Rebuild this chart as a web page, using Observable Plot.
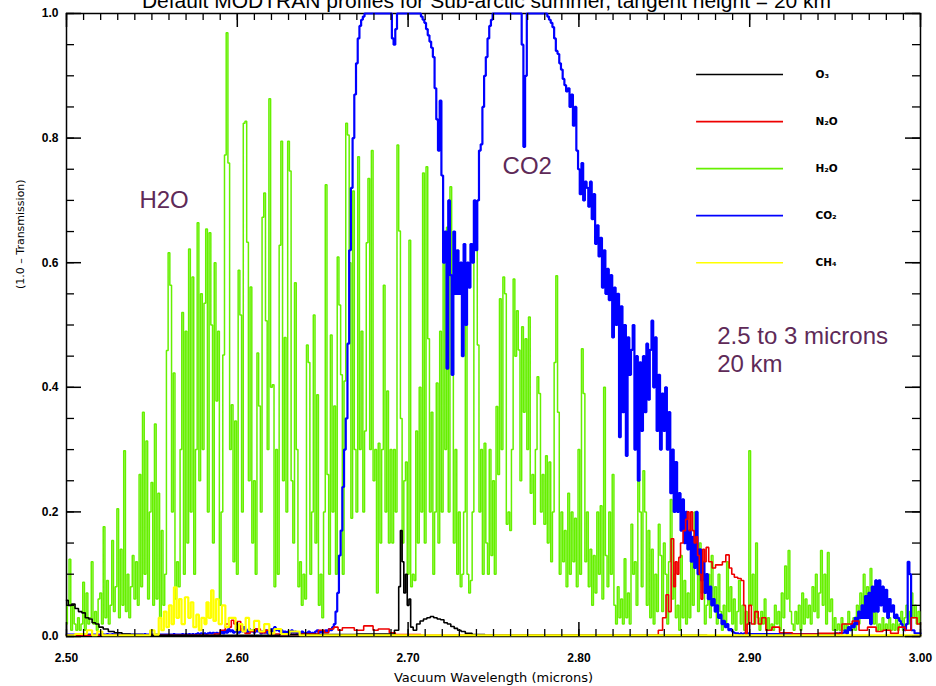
<!DOCTYPE html>
<html><head><meta charset="utf-8">
<script src="https://cdn.jsdelivr.net/npm/d3@7"></script>
<script src="https://cdn.jsdelivr.net/npm/@observablehq/plot@0.6"></script>
<style>
body{margin:0;background:#fff;}
#chart{position:relative;width:936px;height:686px;overflow:hidden;background:#fff;}
</style></head><body><div id="chart"></div>
<script>
// ---------- text ----------
const titleText = "Default MODTRAN profiles for Sub-arctic summer, tangent height = 20 km";
const xLabel = "Vacuum Wavelength (microns)";
const yLabel = "(1.0 \u2013 Transmission)";
const xTickValues = [2.5, 2.6, 2.7, 2.8, 2.9, 3.0];
const xTickLabels = ["2.50", "2.60", "2.70", "2.80", "2.90", "3.00"];
const yTickValues = [0, 0.2, 0.4, 0.6, 0.8, 1.0];
const yTickLabels = ["0.0", "0.2", "0.4", "0.6", "0.8", "1.0"];
const gasNames = ["O\u2083", "N\u2082O", "H\u2082O", "CO\u2082", "CH\u2084"];
const gasColors = ["#000000", "#ee0000", "#66f000", "#0000ff", "#ffff00"];
const notes = ["H2O", "CO2", "2.5 to 3 microns", "20 km"];

// ---------- data (1 - transmission) ----------
// H2O and CO2 sampled on a 0.001 micron grid starting at 2.500
const gridStart = 2.5, gridStep = 0.001;
const h2o = [
0.02,0.05,0.124,0.01,0.05,0.02,0.01,0.03,0.01,0.02,
0.087,0.01,0.07,0.02,0.03,0.12,0.02,0.04,0.01,0.06,
0.07,0.02,0.176,0.03,0.09,0.02,0.05,0.154,0.04,0.08,
0.205,0.03,0.14,0.05,0.298,0.04,0.1,0.03,0.08,0.13,
0.06,0.12,0.05,0.26,0.08,0.36,0.1,0.314,0.06,0.2,
0.247,0.05,0.341,0.06,0.23,0.03,0.17,0.05,0.1,0.459,
0.616,0.564,0.2,0.423,0.06,0.12,0.08,0.3,0.52,0.1,
0.49,0.15,0.622,0.2,0.577,0.1,0.3,0.664,0.25,0.55,
0.3,0.535,0.654,0.2,0.648,0.5,0.15,0.6,0.378,0.49,
0.05,0.2,0.452,0.773,0.969,0.76,0.3,0.372,0.12,0.346,
0.1,0.588,0.516,0.2,0.824,0.827,0.633,0.25,0.561,0.15,
0.25,0.1,0.455,0.37,0.2,0.673,0.712,0.507,0.3,0.863,
0.4,0.404,0.08,0.3,0.1,0.628,0.795,0.25,0.48,0.2,
0.795,0.747,0.25,0.15,0.568,0.3,0.08,0.12,0.05,0.1,
0.06,0.468,0.44,0.1,0.2,0.516,0.15,0.388,0.05,0.1,
0.03,0.2,0.725,0.26,0.1,0.484,0.2,0.37,0.1,0.609,
0.532,0.42,0.1,0.41,0.824,0.805,0.6,0.19,0.715,0.3,
0.2,0.77,0.3,0.49,0.2,0.33,0.632,0.735,0.3,0.78,
0.25,0.3,0.07,0.31,0.15,0.3,0.564,0.2,0.394,0.15,
0.3,0.15,0.3,0.2,0.789,0.651,0.35,0.15,0.25,0.28,
0.1,0.636,0.08,0.1,0.09,0.33,0.15,0.4,0.2,0.744,
0.15,0.754,0.478,0.2,0.36,0.1,0.2,0.407,0.15,0.49,
0.2,0.62,0.3,0.657,0.2,0.722,0.46,0.15,0.3,0.1,
0.2,0.08,0.1,0.2,0.51,0.1,0.07,0.09,0.2,0.693,
0.645,0.468,0.2,0.3,0.1,0.31,0.15,0.1,0.3,0.13,
0.25,0.1,0.369,0.26,0.542,0.3,0.577,0.55,0.18,0.2,
0.17,0.3,0.574,0.45,0.523,0.46,0.25,0.497,0.36,0.478,
0.3,0.513,0.23,0.26,0.18,0.3,0.417,0.39,0.2,0.26,
0.18,0.29,0.15,0.28,0.12,0.2,0.44,0.579,0.36,0.1,
0.2,0.12,0.17,0.08,0.23,0.1,0.2,0.12,0.19,0.08,
0.3,0.1,0.462,0.39,0.12,0.2,0.08,0.14,0.05,0.13,
0.07,0.2,0.1,0.21,0.06,0.4,0.13,0.08,0.2,0.1,
0.26,0.05,0.02,0.08,0.03,0.06,0.02,0.125,0.03,0.07,
0.02,0.18,0.1,0.12,0.05,0.253,0.2,0.08,0.266,0.2,
0.05,0.17,0.03,0.14,0.02,0.1,0.04,0.18,0.13,0.04,
0.15,0.1,0.02,0.12,0.22,0.06,0.1,0.03,0.05,0.01,
0.13,0.03,0.09,0.02,0.07,0.03,0.12,0.05,0.2,0.14,
0.04,0.15,0.07,0.1,0.02,0.05,0.1,0.03,0.13,0.05,
0.08,0.02,0.1,0.04,0.01,0.05,0.02,0.12,0.04,0.08,
0.02,0.06,0.01,0.04,0.09,0.02,0.05,0.01,0.04,0.02,
0.298,0.05,0.1,0.02,0.15,0.03,0.01,0.04,0.02,0.06,
0.01,0.03,0.01,0.02,0.01,0.05,0.02,0.04,0.01,0.07,
0.03,0.113,0.06,0.138,0.04,0.02,0.01,0.04,0.02,0.05,
0.01,0.07,0.02,0.06,0.03,0.05,0.02,0.08,0.04,0.1,
0.03,0.07,0.138,0.05,0.1,0.02,0.135,0.04,0.06,0.01,
0.03,0.01,0.02,0.01,0.03,0.01,0.02,0.01,0.04,0.02,
0.01,0.03,0.01,0.05,0.02,0.07,0.03,0.1,0.04,0.08,
0.03,0.109,0.05,0.02,0.04,0.01,0.02,0.01,0.03,0.01,
0.02,0.01,0.03,0.01,0.02,0.01,0.03,0.01,0.02,0.04,
0.01,0.03,0.05,0.02,0.04,0.07,0.03,0.05,0.02,0.04,
0.02];
const co2 = [
0.003,0.003,0.003,0.003,0.003,0.003,0.003,0.003,0.003,0.003,
0.003,0.003,0.003,0.003,0.003,0.003,0.003,0.003,0.003,0.003,
0.003,0.004,0.003,0.003,0.004,0.003,0.003,0.004,0.003,0.003,
0.003,0.003,0.003,0.003,0.003,0.003,0.003,0.003,0.003,0.003,
0.003,0.003,0.003,0.003,0.003,0.003,0.004,0.003,0.003,0.003,
0.003,0.003,0.003,0.003,0.003,0.003,0.003,0.003,0.003,0.003,
0.003,0.003,0.003,0.004,0.003,0.003,0.003,0.003,0.004,0.003,
0.004,0.003,0.004,0.003,0.004,0.003,0.004,0.005,0.004,0.005,
0.004,0.005,0.004,0.005,0.006,0.005,0.006,0.005,0.006,0.005,
0.005,0.008,0.005,0.01,0.006,0.012,0.008,0.01,0.006,0.008,
0.01,0.006,0.012,0.008,0.015,0.01,0.006,0.012,0.008,0.01,
0.006,0.012,0.008,0.01,0.005,0.008,0.006,0.01,0.005,0.008,
0.012,0.008,0.015,0.01,0.012,0.008,0.01,0.006,0.008,0.005,
0.008,0.005,0.01,0.006,0.008,0.005,0.006,0.004,0.008,0.005,
0.006,0.004,0.008,0.005,0.006,0.004,0.008,0.01,0.006,0.008,
0.006,0.008,0.01,0.008,0.012,0.01,0.015,0.02,0.04,0.07,
0.13,0.17,0.24,0.3,0.35,0.47,0.62,0.72,0.8,0.87,
0.92,0.96,0.98,0.99,0.995,1,1,1,1,1,
1,1,1,1,1,1,1,1,1,1,
1,0.96,0.95,0.975,1,1,1,1,1,1,
1,1,1,1,1,1,1,1,0.995,0.99,
0.985,0.975,0.965,0.955,0.945,0.93,0.88,0.83,0.78,0.86,
0.74,0.6,0.65,0.43,0.7,0.58,0.42,0.65,0.55,0.62,
0.55,0.6,0.45,0.63,0.5,0.6,0.56,0.63,0.6,0.7,
0.62,0.7,0.78,0.79,0.85,0.9,0.93,0.96,0.98,0.99,
1,1,1,1,1,1,1,1,1,1,
1,1,1,1,1,1,1,0.95,0.786,0.9,
1,1,1,1,1,1,1,1,1,1,
1,1,0.995,0.99,0.985,0.978,0.96,0.94,0.935,0.92,
0.91,0.895,0.885,0.875,0.88,0.85,0.87,0.82,0.85,0.78,
0.75,0.71,0.76,0.7,0.73,0.72,0.69,0.73,0.67,0.71,
0.63,0.66,0.61,0.64,0.56,0.62,0.55,0.59,0.54,0.58,
0.48,0.56,0.5,0.55,0.32,0.53,0.36,0.5,0.29,0.48,
0.42,0.46,0.5,0.3,0.45,0.25,0.44,0.33,0.45,0.36,
0.47,0.38,0.46,0.507,0.4,0.48,0.33,0.42,0.3,0.39,
0.33,0.4,0.3,0.36,0.23,0.3,0.2,0.28,0.2,0.23,
0.17,0.22,0.15,0.2,0.14,0.17,0.12,0.16,0.11,0.2,
0.1,0.14,0.09,0.12,0.07,0.1,0.06,0.08,0.05,0.06,
0.04,0.05,0.03,0.035,0.02,0.025,0.015,0.02,0.01,0.012,
0.008,0.006,0.005,0.005,0.004,0.005,0.004,0.005,0.004,0.005,
0.004,0.004,0.004,0.004,0.004,0.004,0.004,0.004,0.004,0.004,
0.004,0.004,0.004,0.004,0.004,0.004,0.004,0.004,0.004,0.004,
0.004,0.004,0.004,0.004,0.004,0.004,0.004,0.004,0.004,0.004,
0.004,0.004,0.004,0.004,0.004,0.004,0.004,0.004,0.004,0.004,
0.004,0.004,0.004,0.004,0.004,0.004,0.004,0.004,0.004,0.004,
0.004,0.005,0.004,0.006,0.005,0.006,0.01,0.005,0.015,0.01,
0.02,0.015,0.03,0.02,0.04,0.03,0.05,0.03,0.065,0.03,
0.07,0.02,0.08,0.04,0.09,0.04,0.09,0.05,0.08,0.04,
0.075,0.03,0.06,0.04,0.05,0.03,0.035,0.03,0.025,0.02,
0.015,0.01,0.02,0.12,0.1,0.01,0.01,0.005,0.005,0.005,
0.005];
// O3, N2O, CH4 as [wavelength, value] pairs
const o3 = [[2.500,0.058],[2.502,0.05],[2.504,0.052],[2.506,0.045],[2.508,0.04],[2.510,0.038],[2.512,0.03],[2.514,0.028],[2.516,0.022],[2.518,0.02],[2.520,0.015],[2.523,0.012],[2.526,0.008],[2.530,0.006],[2.535,0.004],[2.540,0.003],[2.550,0.002],[2.600,0.002],[2.650,0.003],[2.690,0.004],[2.694,0.01],[2.695,0.08],[2.696,0.17],[2.697,0.12],[2.698,0.07],[2.699,0.1],[2.700,0.05],[2.701,0.06],[2.702,0.015],[2.704,0.01],[2.706,0.02],[2.708,0.025],[2.710,0.028],[2.712,0.03],[2.714,0.032],[2.716,0.03],[2.718,0.028],[2.720,0.027],[2.722,0.022],[2.724,0.02],[2.726,0.016],[2.728,0.013],[2.730,0.01],[2.732,0.008],[2.735,0.005],[2.740,0.003],[2.750,0.002],[3.000,0.001]];
const n2o = [[2.500,0.002],[2.585,0.002],[2.588,0.004],[2.592,0.01],[2.594,0.02],[2.596,0.015],[2.597,0.026],[2.599,0.02],[2.601,0.024],[2.603,0.01],[2.606,0.005],[2.609,0.008],[2.612,0.012],[2.615,0.006],[2.618,0.01],[2.620,0.004],[2.630,0.003],[2.645,0.004],[2.650,0.01],[2.652,0.006],[2.655,0.012],[2.658,0.015],[2.660,0.01],[2.663,0.014],[2.667,0.014],[2.670,0.01],[2.673,0.01],[2.675,0.017],[2.678,0.017],[2.681,0.01],[2.684,0.012],[2.688,0.012],[2.690,0.006],[2.695,0.003],[2.720,0.002],[2.845,0.002],[2.848,0.01],[2.850,0.03],[2.852,0.067],[2.853,0.04],[2.855,0.157],[2.856,0.08],[2.857,0.12],[2.858,0.1],[2.859,0.127],[2.860,0.15],[2.862,0.17],[2.863,0.188],[2.864,0.2],[2.865,0.17],[2.866,0.2],[2.867,0.17],[2.868,0.15],[2.869,0.16],[2.870,0.13],[2.871,0.1],[2.872,0.06],[2.873,0.14],[2.874,0.12],[2.875,0.143],[2.877,0.12],[2.879,0.11],[2.881,0.115],[2.883,0.115],[2.885,0.12],[2.887,0.131],[2.889,0.11],[2.890,0.1],[2.892,0.095],[2.894,0.093],[2.896,0.09],[2.897,0.05],[2.898,0.005],[2.899,0.02],[2.900,0.05],[2.902,0.02],[2.904,0.04],[2.906,0.02],[2.908,0.03],[2.911,0.01],[2.915,0.015],[2.920,0.006],[2.930,0.004],[2.950,0.005],[2.958,0.02],[2.962,0.025],[2.966,0.01],[2.972,0.015],[2.976,0.008],[2.980,0.01],[2.985,0.005],[2.989,0.015],[2.993,0.01],[2.996,0.03],[3.000,0.02]];
const ch4 = [[2.500,0.002],[2.510,0.004],[2.514,0.01],[2.516,0.002],[2.520,0.008],[2.522,0.002],[2.548,0.002],[2.550,0.01],[2.553,0.003],[2.555,0.03],[2.556,0.01],[2.558,0.04],[2.559,0.015],[2.561,0.05],[2.562,0.02],[2.5638,0.079],[2.565,0.03],[2.5667,0.06],[2.568,0.02],[2.5706,0.063],[2.572,0.03],[2.5735,0.055],[2.575,0.015],[2.577,0.035],[2.578,0.01],[2.580,0.03],[2.5815,0.02],[2.5824,0.055],[2.584,0.03],[2.5853,0.074],[2.5868,0.025],[2.5882,0.06],[2.590,0.02],[2.592,0.05],[2.594,0.015],[2.596,0.03],[2.598,0.03],[2.600,0.01],[2.602,0.02],[2.604,0.008],[2.6058,0.03],[2.608,0.01],[2.6116,0.025],[2.614,0.008],[2.6175,0.02],[2.620,0.005],[2.6234,0.012],[2.628,0.004],[2.633,0.008],[2.640,0.002],[3.000,0.002]];

// ---------- build tables ----------
const gridTable = arr => arr.map((v, i) => ({x: +(gridStart + i * gridStep).toFixed(4), y: v}));
const pairTable = arr => arr.map(([x, y]) => ({x, y}));
const series = {
  "O\u2083": pairTable(o3),
  "N\u2082O": pairTable(n2o),
  "H\u2082O": gridTable(h2o),
  "CO\u2082": gridTable(co2),
  "CH\u2084": pairTable(ch4)
};
const colorOf = Object.fromEntries(gasNames.map((g, i) => [g, gasColors[i]]));

// ---------- layout ----------
const W = 936, H = 686, ML = 66, MR = 16, MT = 13, MB = 50;
const FW = W - ML - MR, FH = H - MT - MB;
const xMinor = d3.range(250, 301, 1).map(d => d / 100);
const yMinor = d3.range(0, 21, 1).map(d => d / 20);
const legendY = gasNames.map((g, i) => ({g, y: 0.902 - i * 0.0755}));
const noteLayout = [
  {t: notes[0], x: 2.5427, y: 0.687},
  {t: notes[1], x: 2.7553, y: 0.7416},
  {t: notes[2], x: 2.881, y: 0.4687},
  {t: notes[3], x: 2.881, y: 0.4238}
];

const lineOrder = ["H\u2082O", "CO\u2082", "N\u2082O", "O\u2083", "CH\u2084"];
const widths = {"H\u2082O": 1.5, "CO\u2082": 2.2, "N\u2082O": 1.6, "O\u2083": 1.6, "CH\u2084": 2.2};

const chart = Plot.plot({
  width: W, height: H,
  marginLeft: ML, marginRight: MR, marginTop: MT, marginBottom: MB,
  x: {domain: [2.5, 3.0], axis: null},
  y: {domain: [0, 1], axis: null},
  style: {fontFamily: "'Liberation Sans', Arial, sans-serif", background: "white", overflow: "visible"},
  marks: [
    Plot.frame({stroke: "black", strokeWidth: 1.5}),
    ...lineOrder.map(g => Plot.line(series[g], {x: "x", y: "y", curve: "step", stroke: colorOf[g], strokeWidth: widths[g], strokeLinejoin: "miter"})),
    // inward ticks on all four sides
    Plot.tickX(xMinor, {x: d => d, insetTop: FH - 7, stroke: "black", strokeWidth: 1.3}),
    Plot.tickX(xMinor, {x: d => d, insetBottom: FH - 7, stroke: "black", strokeWidth: 1.3}),
    Plot.tickX(xTickValues, {x: d => d, insetTop: FH - 14, stroke: "black", strokeWidth: 1.5}),
    Plot.tickX(xTickValues, {x: d => d, insetBottom: FH - 14, stroke: "black", strokeWidth: 1.5}),
    Plot.tickY(yMinor, {y: d => d, insetRight: FW - 8, stroke: "black", strokeWidth: 1.3}),
    Plot.tickY(yMinor, {y: d => d, insetLeft: FW - 8, stroke: "black", strokeWidth: 1.3}),
    Plot.tickY(yTickValues, {y: d => d, insetRight: FW - 15, stroke: "black", strokeWidth: 1.5}),
    Plot.tickY(yTickValues, {y: d => d, insetLeft: FW - 15, stroke: "black", strokeWidth: 1.5}),
    // tick labels
    Plot.text(xTickValues, {x: d => d, text: (d, i) => xTickLabels[i], frameAnchor: "bottom", dy: 22, lineAnchor: "middle", fontSize: 12, fontWeight: "bold", fill: "black"}),
    Plot.text(yTickValues, {y: d => d, text: (d, i) => yTickLabels[i], frameAnchor: "left", dx: -8, textAnchor: "end", lineAnchor: "middle", fontSize: 12, fontWeight: "bold", fill: "black"}),
    // axis titles and title
    Plot.text([xLabel], {frameAnchor: "bottom", dy: 41, lineAnchor: "middle", fontSize: 13, fill: "black", fontFamily: "'DejaVu Sans', sans-serif"}),
    Plot.text([yLabel], {frameAnchor: "left", dx: -46, dy: -36, rotate: -90, lineAnchor: "middle", fontSize: 11, fill: "black", fontFamily: "'DejaVu Sans', sans-serif"}),
    Plot.text([titleText], {frameAnchor: "top", dx: -7, dy: -6, lineAnchor: "bottom", fontSize: 21, fill: "black"}),
    // legend
    Plot.ruleY(legendY, {y: "y", x1: 2.8689, x2: 2.9198, stroke: d => colorOf[d.g], strokeWidth: 1.6}),
    Plot.text(legendY, {y: "y", x: 2.9385, text: "g", textAnchor: "start", lineAnchor: "middle", fontSize: 10.5, fontWeight: "bold", fill: "black", fontFamily: "'DejaVu Sans', sans-serif"}),
    // annotations
    Plot.text(noteLayout, {x: "x", y: "y", text: "t", textAnchor: "start", lineAnchor: "bottom", fontSize: 24, fill: "#5e2a58"})
  ],
  color: {type: "identity"}
});
document.getElementById("chart").appendChild(chart);
</script>
</body></html>
